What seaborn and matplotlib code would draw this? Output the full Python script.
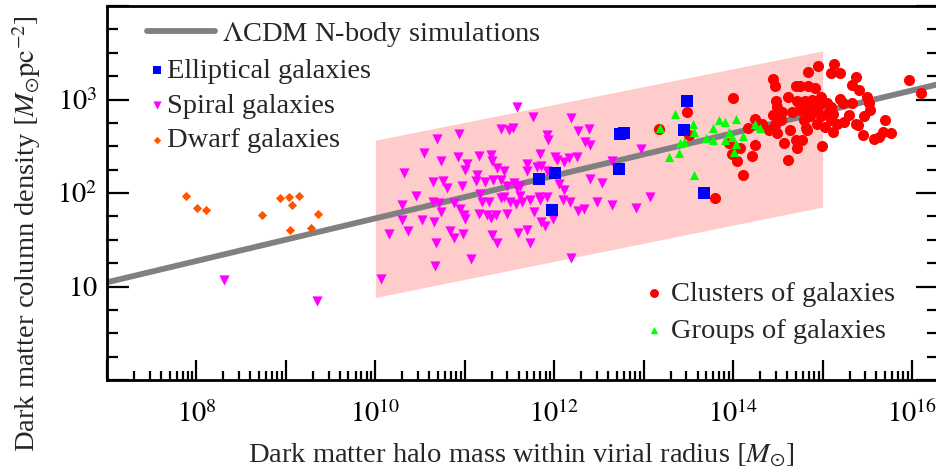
import numpy as np
import pandas as pd
import matplotlib
matplotlib.use("Agg")
import matplotlib.pyplot as plt
import seaborn as sns
from matplotlib.ticker import FixedLocator, FixedFormatter, NullFormatter

# ---------------- data (log10 values) ----------------
line_log_mass = [7.0, 16.3]
line_log_sigma = [1.045, 3.165]

band_log_mass = [10.0, 15.0]
band_log_low = [0.882, 1.85]
band_log_high = [2.565, 3.52]

spiral_log_mass = [11.58, 11.76, 12.19, 11.40, 11.49, 11.54, 10.94, 10.69, 11.92, 11.93,
                   12.27, 12.39, 12.34, 12.40, 10.54, 10.73, 10.92, 11.02, 11.00, 11.16,
                   11.29, 11.30, 11.36, 11.44, 10.32, 10.65, 10.76, 10.80, 10.97, 11.14,
                   11.13, 11.23, 11.32, 11.40, 11.47, 11.55, 11.58, 11.62, 11.69, 11.69,
                   11.84, 11.81, 11.85, 11.92, 12.01, 12.03, 12.11, 12.17, 12.25, 12.05,
                   12.11, 12.40, 12.53, 12.65, 10.45, 10.30, 10.30, 10.52, 10.65, 10.71,
                   10.73, 10.66, 10.88, 10.95, 10.99, 11.00, 11.17, 11.19, 11.16, 11.25,
                   11.29, 11.35, 11.47, 11.27, 11.40, 11.44, 11.51, 11.57, 11.62, 11.64,
                   11.73, 11.83, 11.84, 11.92, 11.77, 11.85, 11.90, 11.99, 12.10, 12.18,
                   12.27, 12.33, 12.48, 12.65, 10.15, 10.36, 10.83, 10.88, 10.98, 11.30,
                   11.36, 11.59, 11.70, 11.73, 10.68, 11.07, 10.67, 12.19, 10.06, 9.35,
                   8.31, 12.97, 12.91, 13.07]
spiral_log_sigma = [2.92, 2.81, 2.80, 2.68, 2.67, 2.69, 2.63, 2.58, 2.62, 2.57,
                    2.66, 2.68, 2.55, 2.51, 2.43, 2.34, 2.39, 2.31, 2.25, 2.40,
                    2.41, 2.34, 2.27, 2.23, 2.21, 2.12, 2.13, 2.05, 2.07, 2.19,
                    2.13, 2.12, 2.14, 2.14, 2.08, 2.11, 2.05, 2.08, 2.23, 2.31,
                    2.42, 2.28, 2.29, 2.24, 2.39, 2.35, 2.33, 2.37, 2.39, 2.10,
                    2.03, 2.15, 2.11, 2.34, 1.97, 1.87, 1.71, 1.71, 1.90, 1.89,
                    1.80, 1.69, 1.89, 1.83, 1.77, 1.72, 1.99, 1.90, 1.78, 1.76,
                    1.73, 1.77, 1.78, 1.90, 1.95, 1.96, 1.90, 1.88, 1.97, 1.90,
                    1.92, 1.96, 1.92, 1.96, 1.80, 1.69, 1.65, 1.72, 1.92, 1.90,
                    1.81, 1.83, 1.90, 1.87, 1.56, 1.59, 1.59, 1.52, 1.56, 1.55,
                    1.47, 1.57, 1.60, 1.46, 1.46, 1.29, 1.22, 1.30, 1.08, 0.84,
                    1.07, 2.47, 1.84, 1.96]

elliptical_log_mass = [11.83, 12.01, 11.98, 12.73, 12.78, 12.72, 13.45, 13.48, 13.67]
elliptical_log_sigma = [2.15, 2.21, 1.82, 2.63, 2.64, 2.26, 2.67, 2.98, 2.00]

dwarf_log_mass = [7.88, 8.01, 8.11, 8.73, 8.93, 9.04, 9.07, 9.15, 9.05, 9.28, 9.36]
dwarf_log_sigma = [1.97, 1.84, 1.82, 1.76, 1.95, 1.96, 1.87, 1.97, 1.60, 1.63, 1.78]

group_log_mass = [13.35, 13.18, 13.55, 13.56, 13.41, 13.45, 13.39, 13.28, 13.56, 13.84,
                  13.91, 14.03, 13.78, 13.70, 13.78, 13.95, 13.99, 13.91, 14.11, 14.03,
                  14.01, 14.24, 14.30]
group_log_sigma = [2.85, 2.70, 2.74, 2.65, 2.54, 2.55, 2.43, 2.38, 2.19, 2.78,
                   2.76, 2.79, 2.69, 2.59, 2.57, 2.65, 2.60, 2.57, 2.61, 2.52,
                   2.44, 2.74, 2.69]

cluster_log_mass = [13.17, 13.48, 13.51, 13.80, 14.00, 14.11, 14.04, 13.99, 13.95, 14.08,
                    14.21, 14.24, 14.24, 14.32, 14.17, 14.45, 14.47, 14.95, 15.13, 15.09,
                    15.19, 14.84, 15.37, 15.33, 15.41, 14.70, 14.75, 14.84, 14.92, 14.61,
                    14.48, 14.49, 14.55, 14.45, 14.53, 14.47, 14.40, 14.49, 14.63, 14.57,
                    14.61, 14.71, 14.77, 14.81, 14.86, 14.88, 14.80, 14.71, 14.66, 14.75,
                    14.79, 14.94, 14.98, 14.94, 14.99, 15.05, 15.09, 15.12, 15.09, 15.16,
                    15.12, 15.20, 15.23, 15.33, 15.29, 15.24, 15.37, 15.40, 15.46, 15.50,
                    15.52, 15.53, 15.45, 14.99, 15.57, 15.63, 15.68, 15.70, 15.77, 15.97,
                    16.10, 14.98, 14.90, 14.83, 15.07, 15.03, 14.83, 14.70, 14.75]
cluster_log_sigma = [2.68, 2.87, 2.62, 1.95, 3.02, 2.19, 2.34, 2.42, 2.53, 2.48,
                     2.40, 2.51, 2.79, 2.74, 2.70, 3.22, 3.14, 3.36, 3.38, 3.28,
                     3.28, 3.29, 3.24, 3.15, 3.10, 3.14, 3.14, 3.14, 3.12, 3.03,
                     2.98, 2.92, 2.87, 2.83, 2.78, 2.73, 2.67, 2.64, 2.67, 2.54,
                     2.35, 2.48, 2.57, 2.70, 2.82, 3.00, 2.98, 2.98, 2.87, 2.89,
                     2.78, 2.89, 2.82, 2.74, 2.96, 2.96, 2.92, 2.85, 2.78, 2.74,
                     2.65, 3.01, 2.96, 2.96, 2.83, 2.76, 2.74, 2.73, 2.82, 3.03,
                     2.96, 2.89, 2.62, 2.50, 2.58, 2.60, 2.65, 2.78, 2.64, 3.21,
                     3.07, 3.03, 2.92, 2.89, 2.87, 2.71, 2.67, 2.57, 2.94]

x_tick_values = [1e7, 1e8, 1e9, 1e10, 1e11, 1e12, 1e13, 1e14, 1e15, 1e16]
x_tick_labels = ["", r"$10^{8}$", "", r"$10^{10}$", "", r"$10^{12}$", "", r"$10^{14}$", "", r"$10^{16}$"]
y_tick_values = [1, 10, 100, 1000, 10000]
y_tick_labels = ["", r"$10$", r"$10^{2}$", r"$10^{3}$", ""]

label_line = r"$\Lambda$CDM N-body simulations"
label_ell = "Elliptical galaxies"
label_spi = "Spiral galaxies"
label_dwa = "Dwarf galaxies"
label_clu = "Clusters of galaxies"
label_gro = "Groups of galaxies"
x_label = r"Dark matter halo mass within virial radius $[M_{\odot}]$"
y_label = r"Dark matter column density $[M_{\odot}\mathrm{pc}^{-2}]$"

# ---------------- styling ----------------
sns.set_style("white")
plt.rcParams["font.family"] = ["Liberation Serif", "DejaVu Serif"]
plt.rcParams["mathtext.fontset"] = "stix"
FS = 20.5

fig = plt.figure(figsize=(9.36, 4.75), dpi=100)
ax = fig.add_axes([107 / 936, 1 - 380 / 475, 831 / 936, 374 / 475])
ax.set_xscale("log")
ax.set_yscale("log")


def frame(lm, ls):
    return pd.DataFrame({"mass": 10 ** np.asarray(lm), "sigma": 10 ** np.asarray(ls)})


bm = 10 ** np.asarray(band_log_mass)
ax.fill_between(bm, 10 ** np.asarray(band_log_low), 10 ** np.asarray(band_log_high),
                color="#ffcccc", lw=0, zorder=1)

sns.lineplot(data=frame(line_log_mass, line_log_sigma), x="mass", y="sigma",
             color="#808080", lw=4.2, ax=ax, label=label_line, zorder=2)

sns.scatterplot(data=frame(spiral_log_mass, spiral_log_sigma), x="mass", y="sigma",
                marker="v", s=54, color="#ff00ff", linewidth=0, ax=ax, label=label_spi, zorder=3)
sns.scatterplot(data=frame(cluster_log_mass, cluster_log_sigma), x="mass", y="sigma",
                marker="o", s=64, color="#ff0000", linewidth=0, ax=ax, label=label_clu, zorder=4)
sns.scatterplot(data=frame(group_log_mass, group_log_sigma), x="mass", y="sigma",
                marker="^", s=44, color="#00ff00", linewidth=0, ax=ax, label=label_gro, zorder=5)
sns.scatterplot(data=frame(elliptical_log_mass, elliptical_log_sigma), x="mass", y="sigma",
                marker="s", s=64, color="#0000ff", linewidth=0, ax=ax, label=label_ell, zorder=6)
sns.scatterplot(data=frame(dwarf_log_mass, dwarf_log_sigma), x="mass", y="sigma",
                marker="D", s=22, color="#ff5500", linewidth=0, ax=ax, label=label_dwa, zorder=6)

ax.set_xlim(1e7, 1.95e16)
ax.set_ylim(1, 1e4)

x_minor = [m * 10.0 ** d for d in range(7, 17) for m in range(2, 10)]
y_minor = [10.0 ** (d + q / 4) for d in range(0, 4) for q in (1, 2, 3)]
ax.xaxis.set_major_locator(FixedLocator(x_tick_values))
ax.xaxis.set_major_formatter(FixedFormatter(x_tick_labels))
ax.xaxis.set_minor_locator(FixedLocator(x_minor))
ax.xaxis.set_minor_formatter(NullFormatter())
ax.yaxis.set_major_locator(FixedLocator(y_tick_values))
ax.yaxis.set_major_formatter(FixedFormatter(y_tick_labels))
ax.yaxis.set_minor_locator(FixedLocator(y_minor))
ax.yaxis.set_minor_formatter(NullFormatter())

ax.tick_params(axis="both", which="both", direction="in", width=1.6, colors="black")
ax.tick_params(axis="x", which="major", length=14.5, top=False, bottom=True, pad=15, labelsize=FS)
ax.tick_params(axis="x", which="minor", length=6.2, top=False, bottom=True)
ax.tick_params(axis="y", which="major", length=15.5, left=True, right=True, pad=7, labelsize=FS)
ax.tick_params(axis="y", which="minor", length=8.0, left=True, right=True)
for s in ax.spines.values():
    s.set_linewidth(2.0)
    s.set_color("black")

ax.set_xlabel(x_label, fontsize=FS)
ax.set_ylabel(y_label, fontsize=FS)
ax.xaxis.label.set_va("baseline")
ax.xaxis.set_label_coords(0.499, -(462 - 380) / 374)
ax.yaxis.label.set_va("baseline")
ax.yaxis.set_label_coords((35 - 107) / 831, 1 - (234 - 6) / 374)

# ---------------- legends ----------------
handles, labels = ax.get_legend_handles_labels()
hmap = dict(zip(labels, handles))

leg1 = ax.legend([hmap[label_line]], [label_line], loc="upper left",
                 bbox_to_anchor=((147 - 107) / 831, 1 - (20 - 6) / 374),
                 frameon=False, fontsize=FS, handlelength=2.4, handletextpad=0.25,
                 borderpad=0, borderaxespad=0)
ax.add_artist(leg1)
leg2 = ax.legend([hmap[label_ell], hmap[label_spi], hmap[label_dwa]],
                 [label_ell, label_spi, label_dwa], loc="upper left",
                 bbox_to_anchor=((151 - 107) / 831, 1 - (58 - 6) / 374),
                 frameon=False, fontsize=FS, handlelength=0.4, handletextpad=0.15,
                 labelspacing=0.31, markerscale=0.8, borderpad=0, borderaxespad=0)
ax.add_artist(leg2)
leg3 = ax.legend([hmap[label_clu], hmap[label_gro]], [label_clu, label_gro], loc="upper left",
                 bbox_to_anchor=((648 - 107) / 831, 1 - (281 - 6) / 374),
                 frameon=False, fontsize=FS, handlelength=0.4, handletextpad=0.4,
                 labelspacing=0.38, markerscale=0.8, borderpad=0, borderaxespad=0)

fig.savefig("out.png", dpi=100)
